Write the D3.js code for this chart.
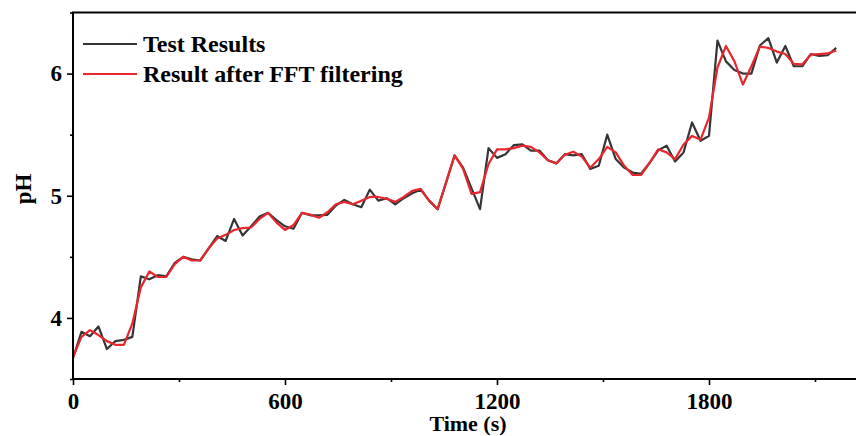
<!DOCTYPE html>
<html>
<head>
<meta charset="utf-8">
<script src="https://cdn.jsdelivr.net/npm/d3@7"></script>
<style>
  body { margin: 0; background: #fff; }
  svg { display: block; }
  text { font-family: "Liberation Serif", "Times New Roman", serif; font-weight: bold; fill: #000; }
</style>
</head>
<body>
<div id="chart"></div>
<script>
// time (s)
const time = [0, 24, 48, 72, 96, 120, 144, 168, 192, 216, 240, 264, 288, 312, 336, 360, 384, 408, 432, 456,
  480, 504, 528, 552, 576, 600, 624, 648, 672, 696, 720, 744, 768, 792, 816, 840, 864, 888, 912, 936,
  960, 984, 1008, 1032, 1056, 1080, 1104, 1128, 1152, 1176, 1200, 1224, 1248, 1272, 1296, 1320, 1344, 1368, 1392, 1416,
  1440, 1464, 1488, 1512, 1536, 1560, 1584, 1608, 1632, 1656, 1680, 1704, 1728, 1752, 1776, 1800, 1824, 1848, 1872, 1896,
  1920, 1944, 1968, 1992, 2016, 2040, 2064, 2088, 2112, 2136, 2160];

const test_ph = [3.67, 3.886, 3.85, 3.93, 3.745, 3.81, 3.82, 3.845, 4.34, 4.316,
  4.35, 4.34, 4.45, 4.50, 4.48, 4.47, 4.57, 4.67, 4.63, 4.81,
  4.675, 4.75, 4.83, 4.86, 4.80, 4.75, 4.73, 4.86, 4.84, 4.84,
  4.844, 4.92, 4.966, 4.93, 4.906, 5.05, 4.96, 4.98, 4.93, 4.98,
  5.02, 5.05, 4.96, 4.89, 5.11, 5.33, 5.23, 5.06, 4.89, 5.39,
  5.31, 5.34, 5.415, 5.42, 5.37, 5.37, 5.29, 5.265, 5.34, 5.33,
  5.34, 5.22, 5.245, 5.50, 5.30, 5.23, 5.19, 5.18, 5.27, 5.37,
  5.41, 5.28, 5.355, 5.60, 5.45, 5.49, 6.27, 6.10, 6.03, 6.00,
  6.00, 6.23, 6.29, 6.09, 6.226, 6.06, 6.06, 6.16, 6.145, 6.15, 6.21];

const fft_ph = [3.68, 3.845, 3.90, 3.86, 3.81, 3.78, 3.78, 3.955, 4.25, 4.38,
  4.335, 4.335, 4.44, 4.50, 4.47, 4.47, 4.57, 4.65, 4.68, 4.72,
  4.735, 4.74, 4.81, 4.86, 4.78, 4.72, 4.76, 4.86, 4.845, 4.82,
  4.865, 4.93, 4.95, 4.93, 4.96, 4.99, 4.99, 4.975, 4.95, 4.99,
  5.04, 5.056, 4.96, 4.89, 5.11, 5.33, 5.22, 5.015, 5.03, 5.26,
  5.38, 5.38, 5.39, 5.41, 5.40, 5.355, 5.29, 5.265, 5.336, 5.36,
  5.32, 5.23, 5.30, 5.40, 5.355, 5.245, 5.17, 5.17, 5.27, 5.38,
  5.355, 5.30, 5.42, 5.49, 5.46, 5.64, 6.05, 6.226, 6.10, 5.91,
  6.06, 6.22, 6.21, 6.18, 6.16, 6.08, 6.075, 6.155, 6.16, 6.165, 6.19];

const x_ticks = [0, 600, 1200, 1800];
const x_minor = [300, 900, 1500, 2100];
const y_ticks = [4, 5, 6];
const y_minor = [3.5, 4.5, 5.5, 6.5];

const series_names = ["Test Results", "Result after FFT filtering"];
const series_colors = ["#353535", "#e8262d"];

const width = 856, height = 436;
const margins = { top: 12.5, left: 73, bottom: 57 };

const x_scale = d3.scaleLinear().domain([0, 2250]).range([margins.left, margins.left + 2250 * 0.35333]);
const y_scale = d3.scaleLinear().domain([3.5, 6.5]).range([height - margins.bottom, margins.top]);

const svg = d3.select("#chart").append("svg")
  .attr("width", width)
  .attr("height", height);

// data lines
const line = d3.line()
  .x((d, i) => x_scale(time[i]))
  .y(d => y_scale(d));

[test_ph, fft_ph].forEach((vals, k) => {
  svg.append("path")
    .datum(vals)
    .attr("fill", "none")
    .attr("stroke", series_colors[k])
    .attr("stroke-width", 2.2)
    .attr("stroke-linejoin", "round")
    .attr("d", line);
});

// axes
const x_axis = d3.axisBottom(x_scale).tickValues(x_ticks).tickSize(6).tickPadding(8).tickFormat(d3.format("d"));
const x_axis_minor = d3.axisBottom(x_scale).tickValues(x_minor).tickSize(3).tickFormat("");
const y_axis = d3.axisLeft(y_scale).tickValues(y_ticks).tickSize(6).tickPadding(5).tickFormat(d3.format("d"));
const y_axis_minor = d3.axisLeft(y_scale).tickValues(y_minor).tickSize(3).tickFormat("");

svg.append("g").attr("class", "x axis")
  .attr("transform", `translate(0, ${y_scale(3.5)})`)
  .call(x_axis);
svg.append("g").attr("transform", `translate(0, ${y_scale(3.5)})`).call(x_axis_minor);
svg.append("g").attr("class", "y axis")
  .attr("transform", `translate(${margins.left}, 0)`)
  .call(y_axis);
svg.append("g").attr("transform", `translate(${margins.left}, 0)`).call(y_axis_minor);

svg.selectAll(".domain").remove();
svg.selectAll(".tick line").attr("stroke", "#000").attr("stroke-width", 1.6);
svg.selectAll(".tick text")
  .style("font-family", "'Liberation Serif', 'Times New Roman', serif")
  .style("font-weight", "bold")
  .style("font-size", "23px")
  .attr("fill", "#000");

// frame
svg.append("rect")
  .attr("x", x_scale(0))
  .attr("y", y_scale(6.5))
  .attr("width", x_scale(2250) - x_scale(0))
  .attr("height", y_scale(3.5) - y_scale(6.5))
  .attr("fill", "none")
  .attr("stroke", "#000")
  .attr("stroke-width", 2);

// axis titles
svg.append("text")
  .attr("x", 468)
  .attr("y", 431)
  .attr("text-anchor", "middle")
  .style("font-size", "22px")
  .text("Time (s)");

svg.append("text")
  .attr("transform", `translate(31, 189) rotate(-90)`)
  .attr("text-anchor", "middle")
  .style("font-size", "23px")
  .text("pH");

// legend
const legend = svg.append("g").attr("transform", "translate(83, 44)");
series_names.forEach((name, i) => {
  legend.append("line")
    .attr("x1", 0).attr("x2", 54)
    .attr("y1", i * 30).attr("y2", i * 30)
    .attr("stroke", series_colors[i])
    .attr("stroke-width", 2.2);
  legend.append("text")
    .attr("x", 60)
    .attr("y", i * 30 + 8)
    .style("font-size", "24px")
    .text(name);
});
</script>
</body>
</html>
